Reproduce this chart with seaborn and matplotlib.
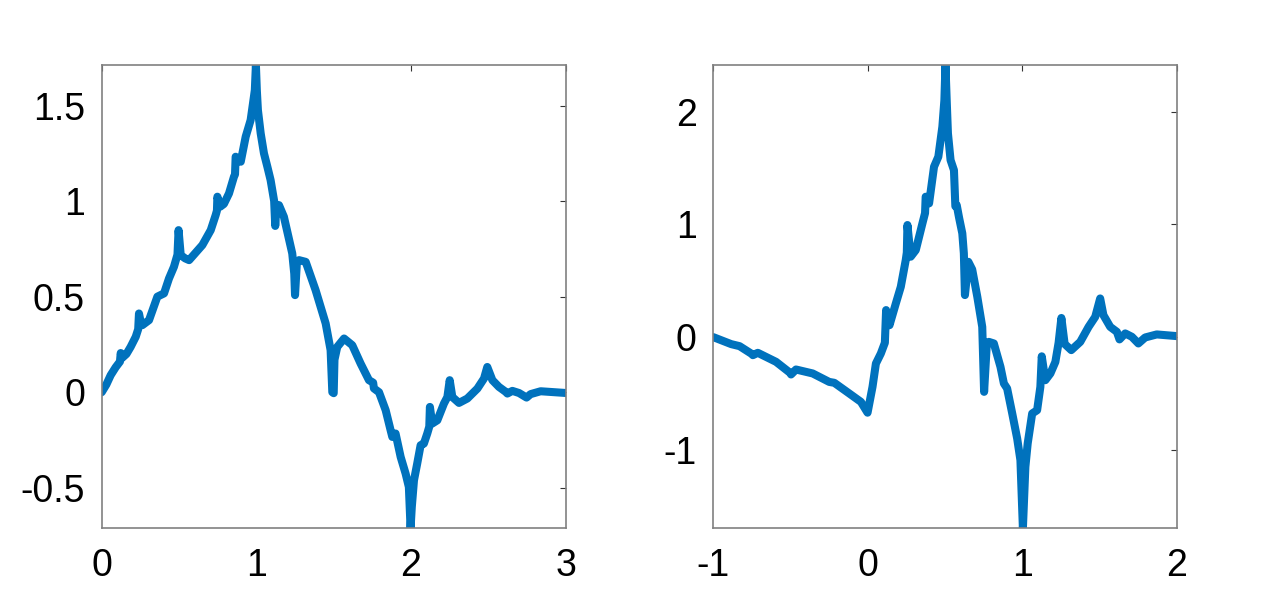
import numpy as np
import pandas as pd
import seaborn as sns
import matplotlib
matplotlib.use("Agg")
import matplotlib.pyplot as plt

# ---- data (left: scaling function, right: wavelet) ----
phi_x = [0.0, 0.03, 0.058, 0.09, 0.118, 0.123, 0.13, 0.16, 0.187, 0.22, 0.236, 0.241,
         0.256, 0.263, 0.306, 0.36, 0.403, 0.435, 0.467, 0.49, 0.497, 0.511, 0.54,
         0.565, 0.651, 0.705, 0.737, 0.745, 0.748, 0.765, 0.79, 0.823, 0.855, 0.862,
         0.866, 0.88, 0.899, 0.931, 0.963, 0.978, 0.99, 0.997, 1.003, 1.01, 1.028,
         1.049, 1.071, 1.092, 1.115, 1.122, 1.13, 1.146, 1.178, 1.232, 1.245, 1.25,
         1.262, 1.276, 1.319, 1.383, 1.448, 1.48, 1.491, 1.5, 1.505, 1.523, 1.567,
         1.62, 1.674, 1.728, 1.755, 1.76, 1.793, 1.836, 1.868, 1.879, 1.9, 1.933,
         1.965, 1.986, 1.997, 2.005, 2.019, 2.04, 2.062, 2.083, 2.105, 2.118, 2.122,
         2.137, 2.17, 2.213, 2.235, 2.25, 2.267, 2.31, 2.364, 2.429, 2.472, 2.493,
         2.526, 2.568, 2.612, 2.623, 2.655, 2.698, 2.747, 2.773, 2.838, 3.0]
phi_y = [0.0, 0.04, 0.089, 0.13, 0.16, 0.205, 0.178, 0.2, 0.237, 0.29, 0.33, 0.412,
         0.351, 0.351, 0.377, 0.50, 0.517, 0.595, 0.656, 0.72, 0.848, 0.717, 0.70,
         0.691, 0.77, 0.848, 0.927, 0.95, 1.023, 0.97, 0.985, 1.04, 1.127, 1.14,
         1.232, 1.21, 1.206, 1.337, 1.424, 1.51, 1.58, 1.712, 1.58, 1.476, 1.354,
         1.25, 1.18, 1.11, 1.0, 0.87, 0.975, 0.979, 0.918, 0.726, 0.62, 0.508,
         0.68, 0.691, 0.682, 0.534, 0.36, 0.22, 0.0, -0.005, 0.17, 0.237, 0.281,
         0.246, 0.15, 0.063, 0.05, 0.02, 0.0, -0.094, -0.199, -0.234, -0.216, -0.339,
         -0.426, -0.496, -0.712, -0.6, -0.461, -0.373, -0.277, -0.269, -0.216, -0.18, -0.077,
         -0.164, -0.147, -0.059, -0.025, 0.063, -0.025, -0.056, -0.033, 0.019, 0.072, 0.132,
         0.063, 0.028, 0.002, -0.007, 0.007, -0.004, -0.028, -0.01, 0.005, -0.004]

psi_x = [-1.0, -0.884, -0.83, -0.75, -0.744, -0.712, -0.594, -0.5, -0.497, -0.465,
         -0.357, -0.25, -0.217, -0.12, -0.045, -0.002, 0.03, 0.052, 0.084, 0.11,
         0.118, 0.14, 0.181, 0.213, 0.245, 0.252, 0.256, 0.277, 0.31, 0.353, 0.37,
         0.374, 0.396, 0.428, 0.456, 0.482, 0.495, 0.502, 0.51, 0.518, 0.535, 0.557,
         0.566, 0.575, 0.59, 0.611, 0.621, 0.628, 0.65, 0.675, 0.708, 0.74, 0.752,
         0.77, 0.783, 0.815, 0.858, 0.88, 0.901, 0.934, 0.966, 0.987, 1.003, 1.019,
         1.034, 1.063, 1.095, 1.116, 1.125, 1.148, 1.181, 1.213, 1.234, 1.252, 1.273,
         1.316, 1.374, 1.428, 1.471, 1.503, 1.524, 1.568, 1.611, 1.628, 1.665, 1.708,
         1.75, 1.794, 1.869, 2.0]
psi_y = [0.0, -0.062, -0.08, -0.15, -0.16, -0.139, -0.219, -0.32, -0.331, -0.287,
         -0.322, -0.397, -0.405, -0.5, -0.574, -0.67, -0.441, -0.234, -0.145, -0.05,
         0.24, 0.106, 0.299, 0.446, 0.683, 0.75, 0.994, 0.713, 0.772, 1.009, 1.1,
         1.245, 1.186, 1.511, 1.6, 1.866, 2.1, 2.413, 2.1, 1.807, 1.57, 1.48,
         1.16, 1.17, 1.06, 0.92, 0.743, 0.373, 0.668, 0.6, 0.358, 0.091, -0.485,
         -0.05, -0.042, -0.056, -0.264, -0.411, -0.455, -0.677, -0.899, -1.091, -1.695, -1.151,
         -0.943, -0.677, -0.648, -0.441, -0.17, -0.382, -0.322, -0.22, -0.05, 0.17, -0.06,
         -0.115, -0.042, 0.091, 0.18, 0.343, 0.195, 0.091, 0.047, -0.02, 0.033, 0.003,
         -0.056, -0.003, 0.024, 0.009]

left_xticks = [0, 1, 2, 3]
left_yticks = [-0.5, 0, 0.5, 1, 1.5]
left_yticklabels = ["-0.5", "0", "0.5", "1", "1.5"]
right_xticks = [-1, 0, 1, 2]
right_xticklabels = ["-1", "0", "1", "2"]
right_yticks = [-1, 0, 1, 2]
right_yticklabels = ["-1", "0", "1", "2"]

sns.set_style("white")
plt.rcParams['font.family'] = ['Liberation Sans', 'DejaVu Sans']

LINE = "#0072BD"
SPINE = "#808080"

fig = plt.figure(figsize=(12.8, 6.04), dpi=100)
ax1 = fig.add_axes([101.7 / 1280, 1 - 528.3 / 604, 464 / 1280, 463.3 / 604])
ax2 = fig.add_axes([713.3 / 1280, 1 - 528.3 / 604, 463.7 / 1280, 463.3 / 604])

df1 = pd.DataFrame({"x": phi_x, "y": phi_y})
df2 = pd.DataFrame({"x": psi_x, "y": psi_y})
sns.lineplot(data=df1, x="x", y="y", ax=ax1, color=LINE, linewidth=5.8,
             estimator=None, sort=False)
sns.lineplot(data=df2, x="x", y="y", ax=ax2, color=LINE, linewidth=5.8,
             estimator=None, sort=False)

ax1.set_xlim(min(phi_x), max(phi_x))
ax1.set_ylim(min(phi_y), max(phi_y))
ax2.set_xlim(min(psi_x), max(psi_x))
ax2.set_ylim(min(psi_y), max(psi_y))

ax1.set_xticks(left_xticks)
ax1.set_xticklabels([str(t) for t in left_xticks])
ax1.set_yticks(left_yticks)
ax1.set_yticklabels(left_yticklabels)
ax2.set_xticks(right_xticks)
ax2.set_xticklabels(right_xticklabels)
ax2.set_yticks(right_yticks)
ax2.set_yticklabels(right_yticklabels)

for ax in (ax1, ax2):
    ax.set_xlabel("")
    ax.set_ylabel("")
    for s in ax.spines.values():
        s.set_visible(True)
        s.set_color(SPINE)
        s.set_linewidth(1.2)
    ax.tick_params(direction="in", length=4, width=0.8, color="#333333",
                   top=True, right=True, labelsize=27, labelcolor="black")
    ax.tick_params(axis="x", pad=14)
    ax.tick_params(axis="y", pad=12)

fig.savefig("out.png", dpi=100, facecolor="white")
